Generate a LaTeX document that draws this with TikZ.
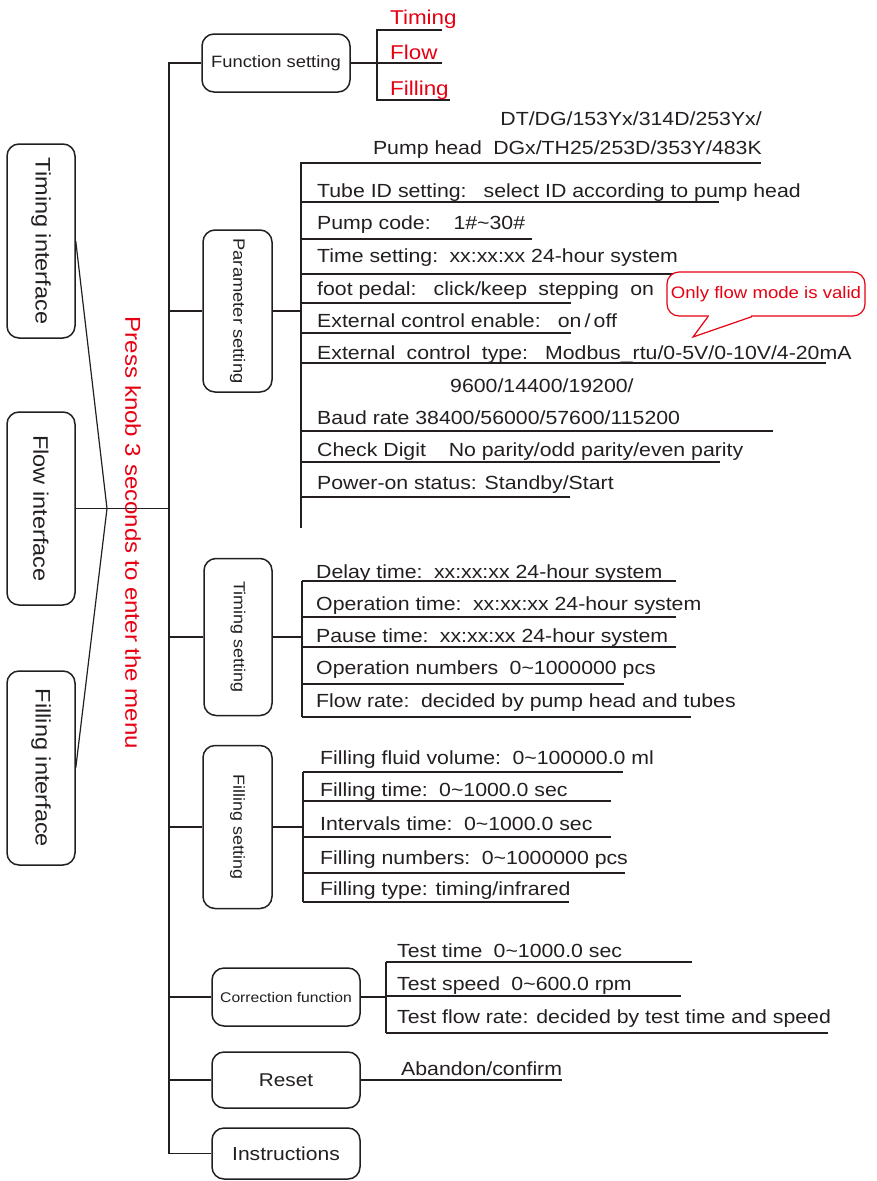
\documentclass[tikz,border=0pt]{standalone}
\usepackage{fontspec}
\setmainfont{Liberation Sans}[FakeStretch=1.12]
\definecolor{ink}{HTML}{231F20}
\definecolor{redt}{HTML}{E60012}
\tikzset{
  ln/.style={draw=ink, line width=1.5pt},
  box/.style={draw=ink, line width=1.5pt, rounded corners=12pt, inner sep=0pt, text=ink, fill=white},
  itm/.style={anchor=base west, inner sep=0pt, text=ink, font=\fontsize{19}{22}\selectfont},
  redtxt/.style={anchor=base west, inner sep=0pt, text=redt, font=\fontsize{20}{24}\selectfont},
  smallbox/.style={box, font=\fontsize{16.4}{18}\selectfont},
  bigbox/.style={box, font=\fontsize{21}{24}\selectfont},
}
\newcommand{\gp}{\hspace{0.3em}}
\begin{document}
\begin{tikzpicture}[x=1pt,y=-1pt]
\useasboundingbox (0,0) rectangle (876,1181);

% ---------- left interface boxes ----------
\node[bigbox, minimum width=68pt, minimum height=194pt] (ti) at (41,241) {\rotatebox{-90}{Timing interface}};
\node[bigbox, minimum width=68pt, minimum height=193pt] (fi) at (41,508.5) {\rotatebox{-90}{Flow interface}};
\node[bigbox, minimum width=68pt, minimum height=194pt] (fli) at (41,768) {\rotatebox{-90}{Filling interface}};
\coordinate (conv) at (107,508.5);

% ---------- menu boxes ----------
\node[smallbox, minimum width=148pt, minimum height=58pt] (fs) at (276,63) {Function setting};
\node[smallbox, minimum width=69pt, minimum height=162pt] (ps) at (237.5,311) {\rotatebox{-90}{Parameter setting}};
\node[smallbox, minimum width=68pt, minimum height=157pt, font=\fontsize{16}{18}\selectfont] (ts) at (238,637) {\rotatebox{-90}{Timing setting}};
\node[smallbox, minimum width=69pt, minimum height=163pt, font=\fontsize{16}{18}\selectfont] (fls) at (237.5,827) {\rotatebox{-90}{Filling setting}};
\node[box, minimum width=148pt, minimum height=58pt, font=\fontsize{14}{16}\selectfont] (cf) at (286,997) {Correction function};
\node[box, minimum width=148pt, minimum height=56pt, font=\fontsize{18.5}{20}\selectfont] (rs) at (286,1080) {Reset};
\node[box, minimum width=148pt, minimum height=51pt, font=\fontsize{18.8}{20}\selectfont] (ins) at (286,1153.5) {Instructions};

% ---------- trunk ----------
\coordinate (ttop) at (169,63);
\coordinate (tbot) at (169,1153.5);
\draw[ln] (fs.west) -- (ttop) -- (tbot) -- (ins.west);
\foreach \b in {ps,ts,fls,cf,rs} \draw[ln] (\b.west) -- (\b.west -| ttop);
\draw[ln] (fi.east) -- (fi.east -| ttop);
\draw[ln, line width=1.2pt] (ti.east) -- (conv) -- (fli.east);

\node[rotate=-90, text=redt, inner sep=0pt, font=\fontsize{21.5}{24}\selectfont] (press) at (133,533) {Press knob 3 seconds to enter the menu};

% ---------- function setting ----------
\coordinate (fb) at (377,63);
\draw[ln] (fs.east) -- (fb);
\draw[ln] (442,30) -- (377,30) -- (377,100) -- (450,100);
\draw[ln] (fb) -- (442,63);
\node[redtxt] (rt1) at (390,24) {Timing};
\node[redtxt] (rt2) at (390,59) {Flow};
\node[redtxt] (rt3) at (390,95) {Filling};

% ---------- parameter setting ----------
\coordinate (pv) at (301,163);
\draw[ln] (ps.east) -- (ps.east -| pv);
\draw[ln] (761,163) -- (pv) -- (301,528);
\node[itm, anchor=base east] (p0a) at (762,125) {DT/DG/153Yx/314D/253Yx/};
\node[itm, anchor=base east] (p0b) at (762,154) {Pump head\gp\gp DGx/TH25/253D/353Y/483K};
\node[itm] (p1) at (317,197) {Tube ID setting:\gp\gp\gp select ID according to pump head};
\draw[ln] (301,202) -- (719,202);
\node[itm] (p2) at (317,229) {Pump code:\gp\gp\gp\gp 1\#\textasciitilde 30\#};
\draw[ln] (301,239) -- (532,239);
\node[itm] (p3) at (317,262) {Time setting:\gp\gp xx:xx:xx 24-hour system};
\draw[ln] (301,274) -- (678,274);
\node[itm] (p4) at (317,295) {foot pedal:\gp\gp\gp click/keep\gp\gp stepping\gp\gp on};
\draw[ln] (301,303) -- (571,303);
\node[itm] (p5) at (317,327) {External control enable:\gp\gp\gp on\,/\,off};
\draw[ln] (301,333) -- (571,333);
\node[itm] (p6) at (317,359) {External\gp\gp control\gp\gp type:\gp\gp\gp Modbus\_rtu/0-5V/0-10V/4-20mA};
\draw[ln] (301,363) -- (826,363);
\node[itm] (p7a) at (450,392) {9600/14400/19200/};
\node[itm] (p7) at (317,424) {Baud rate 38400/56000/57600/115200};
\draw[ln] (301,431) -- (773,431);
\node[itm] (p8) at (317,456) {Check Digit\gp\gp\gp\gp No parity/odd parity/even parity};
\draw[ln] (301,462) -- (720,462);
\node[itm] (p9) at (317,489) {Power-on status: Standby/Start};
\draw[ln] (301,497) -- (570,497);

% callout
\node[draw=redt, line width=1.2pt, rounded corners=12pt, fill=white, minimum width=198pt, minimum height=44pt, inner sep=0pt, text=redt, font=\fontsize{16.6}{18}\selectfont] (cl) at (766,294) {Only flow mode is valid};
\fill[white] ([xshift=-57pt,yshift=-2pt]cl.south) rectangle ([xshift=-15pt,yshift=2pt]cl.south);
\coordinate (tip) at (693,337);
\draw[draw=redt, line width=1.2pt, line join=miter] ([xshift=-58pt]cl.south) -- (tip) -- ([xshift=-14pt]cl.south);

% ---------- timing setting ----------
\coordinate (tv) at (302,581);
\draw[ln] (ts.east) -- (ts.east -| tv);
\draw[ln] (tv) -- (302,717);
\node[itm] (t1) at (316,578) {Delay time:\gp\gp xx:xx:xx 24-hour system};
\draw[ln] (tv) -- (676,581);
\node[itm] (t2) at (316,610) {Operation time:\gp\gp xx:xx:xx 24-hour system};
\draw[ln] (302,617) -- (676,617);
\node[itm] (t3) at (316,642) {Pause time:\gp\gp xx:xx:xx 24-hour system};
\draw[ln] (302,647) -- (676,647);
\node[itm] (t4) at (316,674) {Operation numbers\gp\gp 0\textasciitilde 1000000 pcs};
\draw[ln] (302,684) -- (624,684);
\node[itm] (t5) at (316,707) {Flow rate:\gp\gp decided by pump head and tubes};
\draw[ln] (302,717) -- (691,717);

% ---------- filling setting ----------
\coordinate (fv) at (303,772);
\draw[ln] (fls.east) -- (fls.east -| fv);
\draw[ln] (fv) -- (303,902);
\node[itm] (f1) at (320,764) {Filling fluid volume:\gp\gp 0\textasciitilde 100000.0 ml};
\draw[ln] (fv) -- (623,772);
\node[itm] (f2) at (320,796) {Filling time:\gp\gp 0\textasciitilde 1000.0 sec};
\draw[ln] (303,801) -- (611,801);
\node[itm] (f3) at (320,830) {Intervals time:\gp\gp 0\textasciitilde 1000.0 sec};
\draw[ln] (303,837) -- (611,837);
\node[itm] (f4) at (320,864) {Filling numbers:\gp\gp 0\textasciitilde 1000000 pcs};
\draw[ln] (303,873) -- (625,873);
\node[itm] (f5) at (320,895) {Filling type: timing/infrared};
\draw[ln] (303,902) -- (569,902);

% ---------- correction ----------
\coordinate (cv) at (386,962);
\draw[ln] (cf.east) -- (cf.east -| cv);
\draw[ln] (cv) -- (386,1033);
\node[itm] (c1) at (397,957) {Test time\gp\gp 0\textasciitilde 1000.0 sec};
\draw[ln] (cv) -- (692,962);
\node[itm] (c2) at (397,990) {Test speed\gp\gp 0\textasciitilde 600.0 rpm};
\draw[ln] (386,996) -- (681,996);
\node[itm] (c3) at (397,1023) {Test flow rate: decided by test time and speed};
\draw[ln] (386,1033) -- (828,1033);

% ---------- reset ----------
\coordinate (re) at (562,1080);
\draw[ln] (rs.east) -- (re);
\node[itm] (r1) at (401,1075) {Abandon/confirm};
\end{tikzpicture}
\end{document}
